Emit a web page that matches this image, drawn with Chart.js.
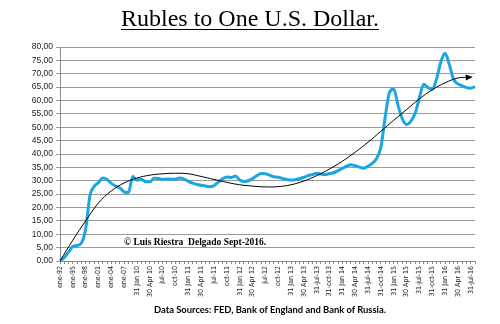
<!DOCTYPE html>
<html>
<head>
<meta charset="utf-8">
<script src="https://cdn.jsdelivr.net/npm/chart.js@4.4.1/dist/chart.umd.min.js"></script>
<style>
  body { margin: 0; background: #fff; }
  #wrap { position: relative; width: 500px; height: 324px; overflow: hidden; }
  #chart { position: absolute; left: 0; top: 0; }
  .txt { position: absolute; white-space: nowrap; color: #000; }
  #title { left: 0; width: 500px; text-align: center; top: 7px; font: 24px/22px 'Liberation Serif', serif;
           text-decoration: underline; text-decoration-thickness: 1px; text-underline-offset: 3px; }
  #credit { left: 124px; top: 237px; font: bold 9.5px/10px 'Liberation Serif', serif; }
  #source { left: 154px; top: 305px; font: bold 9.4px/10.8px Lato, sans-serif; }
</style>
</head>
<body>
<div id="wrap">
  <canvas id="chart" width="500" height="324"></canvas>
  <div class="txt" id="title">Rubles to One U.S. Dollar.</div>
  <div class="txt" id="credit">© Luis Riestra&nbsp; Delgado Sept-2016.</div>
  <div class="txt" id="source">Data Sources: FED, Bank of England and Bank of Russia.</div>
</div>
<script>
// tick labels shown under the x axis (one every 3 data points)
const tickLabels = ['ene-92', 'ene-95', 'ene-98', 'ene-01', 'ene-04', 'ene-07',
  '31 Jan 10', '30 Apr 10', 'jul-10', 'oct-10', '31 Jan 11', '30 Apr 11', 'jul-11', 'oct-11',
  '31 Jan 12', '30 Apr 12', 'jul-12', 'oct-12', '31 Jan 13', '30 Apr 13', '31-jul-13', '31-oct-13',
  '31 Jan 14', '30 Apr 14', '31-jul-14', '31-oct-14', '31 Jan 15', '30 Apr 15', '31-jul-15', '31-oct-15',
  '31 Jan 16', '30 Apr 16', '31-jul-16'];
const STEP = 3;

// rubles per dollar
const rubles = [
  0, 1.3, 3.4, 5.4, 5.8, 6.7, 12.0, 24.5, 27.9, 29.3,
  31.0, 30.5, 29.0, 28.0, 27.3, 25.8, 25.6, 31.6, 30.2, 30.5,
  29.7, 29.6, 30.9, 30.8, 30.5, 30.7, 30.6, 30.6, 31.0, 30.6,
  29.8, 29.1, 28.6, 28.3, 28.0, 27.8, 28.2, 29.5, 30.7, 31.4,
  31.2, 31.8, 30.3, 29.7, 30.0, 30.8, 31.9, 32.7, 32.6, 32.1,
  31.5, 31.3, 30.9, 30.5, 30.3, 30.4, 30.8, 31.3, 31.9, 32.3,
  32.8, 32.5, 32.3, 32.7, 33.0, 33.8, 34.6, 35.5, 36.0, 35.6,
  35.1, 34.7, 35.4, 36.5, 38.3, 42.5, 53.7, 63.0, 64.3, 58.3,
  53.2, 51.0, 52.2, 55.2, 61.0, 66.1, 64.8, 64.2, 68.0, 74.3,
  77.7, 73.4, 67.9, 66.2, 65.5, 64.8, 64.6, 65.2
];

// trend line values at each tick label
const trend = [
  0, 7.8, 15.0, 21.7, 26.2, 29.2, 31.0, 32.1, 32.6, 32.8,
  32.6, 31.6, 30.5, 29.4, 28.5, 28.0, 27.7, 27.8, 28.5, 29.9,
  31.9, 34.4, 37.3, 40.7, 44.4, 48.5, 52.6, 56.6, 60.6, 64.0,
  66.6, 68.4, 68.7
];

const labels = rubles.map((v, i) => (i % STEP === 0 && tickLabels[i / STEP]) ? tickLabels[i / STEP] : '');
const trendFull = rubles.map((v, i) => (i % STEP === 0 && i / STEP < trend.length) ? trend[i / STEP] : null);

const arrowHead = {
  id: 'arrowHead',
  afterDatasetsDraw(chart) {
    const meta = chart.getDatasetMeta(0);
    const pts = meta.data.filter(p => !p.skip && p.y != null && !isNaN(p.y));
    if (pts.length < 2) return;
    const a = pts[pts.length - 2], b = pts[pts.length - 1];
    const ang = Math.atan2(b.y - a.y, b.x - a.x);
    const ctx = chart.ctx;
    const tx = b.x + 2 * Math.cos(ang), ty = b.y + 2 * Math.sin(ang);
    ctx.save();
    ctx.fillStyle = '#000';
    ctx.beginPath();
    ctx.moveTo(tx, ty);
    ctx.lineTo(tx - 7 * Math.cos(ang) + 3 * Math.sin(ang), ty - 7 * Math.sin(ang) - 3 * Math.cos(ang));
    ctx.lineTo(tx - 7 * Math.cos(ang) - 3 * Math.sin(ang), ty - 7 * Math.sin(ang) + 3 * Math.cos(ang));
    ctx.closePath();
    ctx.fill();
    ctx.restore();
  }
};

new Chart(document.getElementById('chart'), {
  type: 'line',
  data: {
    labels: labels,
    datasets: [
      {
        label: 'Trend',
        data: trendFull,
        borderColor: '#000',
        borderWidth: 1,
        pointRadius: 0,
        spanGaps: true,
        tension: 0.4,
        order: 0
      },
      {
        label: 'Rubles',
        data: rubles,
        borderColor: '#1ba6e2',
        borderWidth: 3,
        pointRadius: 0,
        cubicInterpolationMode: 'monotone',
        order: 1
      }
    ]
  },
  options: {
    responsive: false,
    animation: false,
    layout: { padding: { top: 47, right: 25, left: 0, bottom: 0 } },
    plugins: { legend: { display: false }, tooltip: { enabled: false } },
    scales: {
      x: {
        type: 'category',
        offset: false,
        grid: { drawOnChartArea: false, color: '#8a8a8a', tickLength: 3, offset: false },
        border: { color: '#8a8a8a' },
        ticks: {
          autoSkip: false, maxRotation: 90, minRotation: 90, padding: 2,
          color: '#222', font: { family: "'Liberation Sans Narrow', 'DejaVu Sans Condensed', 'Liberation Sans'", size: 7 }
        },
        afterFit(s) { s.height = 63; }
      },
      y: {
        min: 0,
        max: 80,
        grid: { color: '#9a9a9a', tickLength: 4 },
        border: { color: '#8a8a8a' },
        ticks: {
          stepSize: 5, padding: 3, color: '#222',
          font: { family: 'Liberation Sans', size: 8.5 },
          callback: v => v.toFixed(2).replace('.', ',')
        },
        afterFit(s) { s.width = 60; }
      }
    }
  },
  plugins: [arrowHead]
});
</script>
</body>
</html>
